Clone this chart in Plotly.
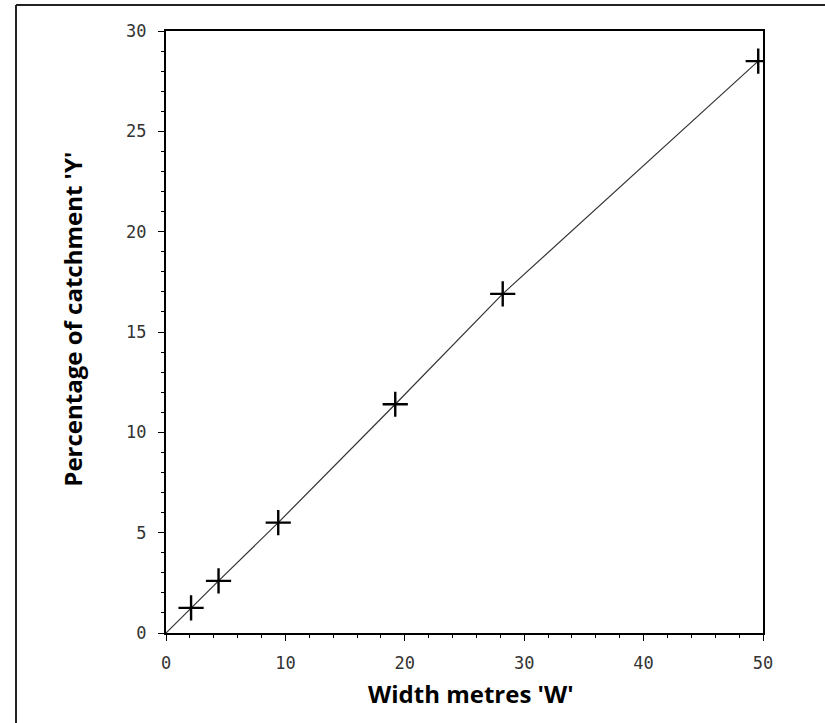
import plotly.graph_objects as go

# Data
width_w = [2.1, 4.4, 9.4, 19.2, 28.2, 49.6]          # Width metres 'W'
percent_y = [1.25, 2.6, 5.5, 11.4, 16.9, 28.5]       # Percentage of catchment 'Y'
line_x = [0] + width_w
line_y = [0] + percent_y
x_ticks = [0, 10, 20, 30, 40, 50]
y_ticks = [0, 5, 10, 15, 20, 25, 30]

fig = go.Figure()
fig.add_trace(go.Scatter(
    x=line_x, y=line_y, mode="lines",
    line=dict(color="#333333", width=1.2),
    hoverinfo="skip", showlegend=False))
fig.add_trace(go.Scatter(
    x=width_w, y=percent_y, mode="markers",
    marker=dict(symbol="cross-thin", size=18, line=dict(color="black", width=2.4)),
    showlegend=False))

axis_common = dict(
    showline=True, linecolor="black", linewidth=2, mirror=True,
    showgrid=False, zeroline=False, ticks="outside", ticklen=6,
    tickcolor="black", tickwidth=1,
    tickfont=dict(family="DejaVu Sans Mono", size=17, color="#333333"),
)
fig.update_xaxes(range=[0, 50], tickvals=x_ticks, ticktext=[str(v) for v in x_ticks],
                 ticklabelstandoff=8,
                 minor=dict(ticks="outside", ticklen=3, dtick=2, tickcolor="black"),
                 **axis_common)
fig.update_yaxes(range=[0, 30], tickvals=y_ticks, ticktext=[str(v) for v in y_ticks],
                 ticklabelstandoff=8,
                 minor=dict(ticks="outside", ticklen=3, dtick=1, tickcolor="black"),
                 **axis_common)

annotations = [
    dict(text="<b>Width metres 'W'</b>", xref="paper", yref="paper",
         x=0.511, y=-0.100, showarrow=False,
         font=dict(family="Open Sans", size=24, color="black"),
         xanchor="center", yanchor="middle"),
    dict(text="<b>Percentage of catchment 'Y'</b>", xref="paper", yref="paper",
         x=-0.157, y=0.521, showarrow=False, textangle=-90,
         font=dict(family="Open Sans", size=24, color="black"),
         xanchor="center", yanchor="middle"),
]

# outer frame (left and top edges)
px_l, px_r, px_t, px_b = 166, 763, 31, 633
def to_px(xp):
    return (xp - px_l) / (px_r - px_l)
def to_py(yp):
    return (px_b - yp) / (px_b - px_t)

shapes = [
    dict(type="line", xref="paper", yref="paper", x0=to_px(16), x1=to_px(825),
         y0=to_py(5), y1=to_py(5), line=dict(color="#222222", width=2)),
    dict(type="line", xref="paper", yref="paper", x0=to_px(16), x1=to_px(16),
         y0=to_py(5), y1=to_py(723), line=dict(color="#222222", width=2)),
]

fig.update_layout(
    width=825, height=723,
    margin=dict(l=px_l, r=825 - px_r, t=px_t, b=723 - px_b),
    plot_bgcolor="white", paper_bgcolor="white",
    annotations=annotations, shapes=shapes,
)

fig.write_html("out.html", config={"displayModeBar": False},
               post_script="document.body.style.margin='0';")
